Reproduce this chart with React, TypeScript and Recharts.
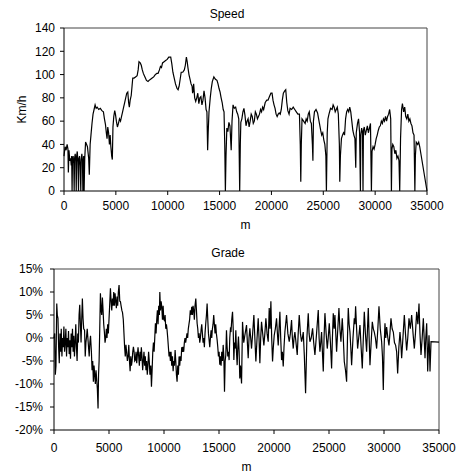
import React from 'react';
import { LineChart, Line, XAxis, YAxis, ReferenceLine } from 'recharts';

// distance (m), speed (km/h)
const speedPoints: [number, number][] = [
  [0, 30], [100, 38], [200, 35], [300, 40], [380, 36], [420, 16], [480, 35], [560, 26], [640, 28], [700, 22],
  [740, 30], [780, 0], [820, 27], [880, 30], [940, 24], [980, 0], [1020, 28], [1080, 32], [1140, 26], [1180, 0],
  [1220, 30], [1280, 34], [1340, 25], [1400, 0], [1440, 28], [1500, 30], [1560, 22], [1620, 0], [1660, 27], [1720, 32],
  [1780, 26], [1820, 0], [1860, 24], [1900, 30], [1940, 0], [2000, 28], [2080, 42], [2180, 40], [2260, 38], [2380, 28],
  [2440, 14], [2520, 40], [2600, 48], [2700, 58], [2800, 66], [2900, 70], [3000, 74], [3100, 71], [3200, 72], [3350, 70],
  [3500, 71], [3650, 69], [3800, 68], [3900, 62], [4000, 57], [4080, 50], [4150, 45], [4220, 55], [4300, 50], [4380, 40],
  [4450, 48], [4520, 38], [4600, 30], [4660, 27], [4720, 55], [4800, 64], [4890, 69], [4960, 66], [5050, 60], [5150, 55],
  [5250, 58], [5350, 62], [5450, 60], [5550, 64], [5650, 68], [5750, 72], [5850, 76], [5950, 80], [6050, 84], [6150, 85],
  [6230, 76], [6300, 72], [6380, 78], [6480, 82], [6560, 90], [6630, 97], [6750, 97], [6900, 98], [7050, 99], [7150, 104],
  [7230, 111], [7350, 110], [7450, 108], [7550, 104], [7650, 101], [7750, 99], [7850, 97], [7950, 95], [8100, 94], [8200, 95],
  [8350, 96], [8500, 97], [8650, 98], [8800, 100], [8950, 101], [9070, 101], [9200, 104], [9300, 107], [9400, 106], [9500, 110],
  [9650, 111], [9800, 112], [9950, 113], [10100, 115], [10290, 115], [10400, 109], [10500, 102], [10600, 98], [10750, 92], [10900, 88],
  [11000, 87], [11100, 90], [11200, 96], [11300, 102], [11450, 102], [11600, 104], [11700, 108], [11800, 115], [11880, 111], [11950, 106],
  [12050, 100], [12150, 96], [12250, 92], [12350, 90], [12400, 84], [12450, 86], [12500, 92], [12600, 80], [12700, 77], [12800, 80],
  [12900, 84], [13000, 75], [13100, 80], [13200, 81], [13300, 74], [13400, 78], [13500, 86], [13600, 80], [13700, 70], [13780, 68],
  [13850, 35], [13900, 50], [13980, 68], [14100, 80], [14200, 88], [14300, 94], [14450, 98], [14600, 96], [14750, 95], [14850, 92],
  [14950, 88], [15050, 85], [15150, 80], [15250, 76], [15350, 70], [15430, 68], [15500, 40], [15560, 0], [15620, 30], [15700, 54],
  [15800, 51], [15900, 59], [16000, 56], [16120, 35], [16200, 60], [16300, 74], [16420, 71], [16550, 72], [16650, 68], [16750, 66],
  [16850, 62], [16940, 0], [17000, 40], [17050, 59], [17150, 62], [17250, 68], [17350, 71], [17450, 65], [17550, 56], [17650, 60],
  [17750, 62], [17850, 55], [17950, 60], [18050, 66], [18150, 64], [18250, 58], [18350, 60], [18450, 68], [18550, 66], [18650, 62],
  [18750, 64], [18850, 66], [18950, 70], [19050, 68], [19150, 72], [19250, 70], [19400, 76], [19550, 78], [19670, 78], [19800, 81],
  [19950, 84], [20060, 84], [20150, 78], [20250, 74], [20350, 71], [20450, 66], [20550, 64], [20650, 66], [20750, 67], [20850, 66],
  [20950, 70], [21050, 78], [21150, 84], [21280, 86], [21380, 87], [21480, 76], [21580, 69], [21700, 66], [21800, 71], [21950, 70],
  [22100, 72], [22250, 70], [22400, 68], [22550, 66], [22700, 66], [22780, 40], [22830, 8], [22880, 40], [22950, 62], [23100, 60],
  [23250, 58], [23350, 62], [23450, 60], [23550, 66], [23650, 68], [23750, 60], [23850, 58], [23950, 40], [24000, 26], [24050, 60],
  [24150, 68], [24300, 70], [24450, 67], [24550, 62], [24650, 57], [24750, 52], [24850, 48], [24950, 50], [25050, 44], [25150, 40],
  [25250, 30], [25300, 0], [25380, 50], [25450, 62], [25550, 66], [25700, 71], [25850, 70], [25950, 74], [26050, 72], [26150, 68],
  [26250, 70], [26350, 72], [26450, 66], [26550, 40], [26590, 8], [26650, 30], [26750, 45], [26850, 48], [26950, 50], [27050, 48],
  [27150, 62], [27250, 68], [27350, 70], [27450, 68], [27550, 72], [27650, 68], [27750, 60], [27850, 52], [27950, 48], [28050, 45],
  [28130, 20], [28180, 50], [28300, 58], [28400, 62], [28500, 50], [28580, 0], [28620, 48], [28700, 54], [28780, 50], [28830, 0],
  [28870, 52], [28950, 55], [29050, 48], [29150, 52], [29250, 56], [29350, 50], [29450, 54], [29550, 58], [29640, 0], [29700, 34],
  [29800, 38], [29900, 36], [30000, 40], [30100, 45], [30200, 48], [30300, 52], [30400, 55], [30500, 56], [30600, 60], [30700, 58],
  [30800, 62], [30900, 60], [31000, 64], [31100, 60], [31200, 64], [31300, 66], [31400, 70], [31500, 62], [31570, 0], [31620, 36],
  [31700, 40], [31800, 38], [31900, 32], [32000, 35], [32100, 28], [32200, 30], [32300, 26], [32370, 0], [32450, 45], [32550, 70],
  [32630, 75], [32750, 68], [32850, 72], [32950, 64], [33050, 62], [33150, 66], [33250, 60], [33350, 62], [33450, 58], [33550, 56],
  [33650, 50], [33750, 48], [33830, 0], [33880, 30], [33960, 42], [34100, 40], [34200, 42], [34300, 38], [35000, 0],
];

// distance (m), grade (%)
const gradePoints: [number, number][] = [
  [0, 0], [60, 1], [120, -8], [180, -6], [250, 7.5], [300, 5], [360, 4.3], [420, -2], [480, -5.5], [540, 1],
  [600, -3], [660, 2], [720, -4], [780, 0], [840, -2], [900, 2.5], [960, -3], [1020, -1], [1080, 2], [1140, -4],
  [1200, 0], [1260, -2], [1320, 1.5], [1380, -3.5], [1440, -0.5], [1500, -4.5], [1560, 1], [1620, -2], [1680, 2], [1740, -3],
  [1800, 0.5], [1860, -4], [1920, -1], [1980, 3], [2040, -2], [2100, -5], [2160, 1], [2220, -1], [2280, 5], [2340, 7.2],
  [2400, 3], [2460, -1], [2520, 4], [2580, 8.6], [2640, 4.3], [2700, 2], [2780, 1.7], [2840, -4], [2900, -1], [2960, 0.3],
  [3020, 2], [3080, 0], [3140, -2], [3200, -4], [3260, -1], [3320, 0.5], [3400, -3], [3460, -7], [3520, -5], [3580, -9.5],
  [3640, -6], [3700, -8], [3760, -10], [3820, -7], [3880, -9], [3940, -11], [4005, -15.3], [4050, -8], [4100, -5], [4160, 2],
  [4220, 9.7], [4280, 6], [4340, 5], [4400, 8.8], [4460, 6], [4520, 3], [4580, 1.3], [4640, -1], [4700, 0], [4760, 2],
  [4820, 0], [4880, 3], [4940, 1], [5000, 4], [5060, 7], [5130, 10.8], [5190, 8], [5250, 6], [5310, 8.6], [5370, 7],
  [5430, 10], [5490, 7], [5550, 9.7], [5610, 8], [5670, 6.5], [5730, 9], [5790, 7], [5850, 10], [5915, 11.5], [5980, 8],
  [6040, 7.9], [6100, 7], [6170, 6], [6230, 5.5], [6300, 4], [6360, 1], [6420, -2], [6480, -4], [6540, -1.5], [6600, -3],
  [6670, -5], [6735, -4], [6800, -1.5], [6860, -5], [6920, -7.2], [6980, -4], [7040, -6], [7100, -5], [7160, -3], [7220, -1.9],
  [7280, -3], [7340, -5], [7400, -4.8], [7460, -3], [7520, -5.5], [7580, -3.7], [7640, -2], [7700, -4], [7760, -6], [7820, -3],
  [7880, -5], [7940, -2], [8000, -4], [8060, -7], [8120, -5], [8180, -3], [8240, -6], [8300, -4], [8360, -7], [8420, -5],
  [8480, -8], [8540, -6], [8600, -3], [8660, -5], [8720, -8], [8800, -6], [8860, -10.6], [8920, -7], [8980, -3], [9040, -1],
  [9100, -3], [9160, 0], [9220, 3.2], [9280, 1], [9340, 4], [9400, 6], [9460, 3], [9520, 7], [9580, 5], [9620, 10],
  [9680, 6], [9740, 8], [9800, 6.7], [9860, 4], [9920, 7], [9980, 4], [10040, 3.8], [10100, 5], [10160, 2], [10220, 3],
  [10280, 1.7], [10340, 0], [10400, -2], [10460, -4], [10520, -3], [10580, -5], [10640, -3], [10700, -6], [10770, -4], [10830, -7.2],
  [10890, -5], [10950, -6], [11010, -2.6], [11070, -5], [11130, -8], [11190, -9.5], [11250, -6], [11310, -8], [11370, -4], [11430, -6],
  [11490, -4], [11550, -5], [11610, -2], [11670, -3], [11730, -1.9], [11790, -3], [11850, -1], [11910, 0], [11970, -1], [12030, 0],
  [12090, 1], [12150, 0], [12210, 2], [12270, 3], [12330, 4], [12390, 6], [12450, 5], [12520, 6.8], [12580, 5], [12640, 7],
  [12700, 6], [12760, 4], [12820, 7], [12890, 8.6], [12950, 6], [13010, 3.2], [13070, 2], [13130, 0], [13190, 1], [13250, -1],
  [13310, 0], [13370, 1.7], [13430, 3], [13490, 1], [13550, -1], [13610, 0], [13670, -2], [13730, 1], [13790, 3], [13860, 5],
  [13920, 7.5], [13980, 4], [14040, 1], [14100, -0.4], [14160, -2], [14220, 0], [14280, 1.7], [14340, 0], [14400, 2], [14460, 3],
  [14520, 5], [14580, 3], [14640, 1], [14700, 3], [14760, 1], [14830, -0.4], [14890, -2], [14950, -4], [15010, -3], [15070, -5.8],
  [15130, -4], [15190, -6], [15250, -3], [15320, -5], [15380, -1.5], [15440, -4], [15500, -11.7], [15560, -5], [15620, -3.7], [15680, 1.7],
  [15740, -2], [15800, -4], [15860, -3], [15920, -4.8], [15980, 0], [16040, 2], [16100, 1.7], [16160, 4], [16230, 5.7], [16290, 2],
  [16350, -4.8], [16410, -1], [16470, -2.3], [16530, 1.7], [16590, -3], [16650, -5.9], [16710, -2], [16770, 0.3], [16830, -3], [16890, -8.8],
  [16950, -6], [17050, -9.9], [17139, 3.5], [17250, -1], [17351, 0.6], [17503, 2.8], [17580, -1], [17654, -4.4], [17730, 0], [17806, 2.1],
  [17880, 0], [17958, -2.3], [18060, 1], [18170, 5], [18260, 0], [18352, -5.1], [18460, 0], [18564, 4.3], [18640, 0], [18716, -5.5],
  [18790, 0], [18867, 3.5], [18970, 1], [19080, -1.6], [19170, 1], [19262, 4.3], [19370, 1], [19474, -0.8], [19565, 6.5], [19640, 2],
  [19717, 8], [19790, 0], [19868, -5.1], [19940, -2], [20020, 0.6], [20120, 2], [20232, 4.3], [20310, 1], [20384, -1.6], [20460, 2],
  [20536, 5.7], [20610, 0], [20687, -4.8], [20760, -3], [20839, -6.2], [20910, -2], [20990, 1.3], [21060, 3], [21142, 5], [21260, 1],
  [21385, -0.8], [21490, 1], [21597, 3.9], [21670, 0], [21749, -2.3], [21820, 0], [21900, 1.3], [22000, -1], [22113, -3.7], [22200, 1],
  [22295, 5], [22400, 1], [22507, -0.8], [22580, 0], [22659, 1.3], [22760, -4], [22871, -12], [22990, 0], [23114, 5.4], [23190, 1],
  [23265, -0.8], [23380, 0], [23508, 2.1], [23610, -1], [23720, -3.7], [23870, 1], [24024, 6.1], [24100, 0], [24175, -3], [24250, -1],
  [24327, 1.3], [24400, -3], [24479, -7.3], [24550, 0], [24630, 5.4], [24740, 1], [24842, -2.3], [24930, 0], [25024, 3.2], [25130, -1],
  [25237, -6.6], [25310, 0], [25388, 5.4], [25470, 2], [25539, 5], [25615, 1], [25691, -3], [25800, 2], [25903, 6.5], [25990, 2],
  [26085, -0.8], [26150, 2], [26206, 4.3], [26300, 0], [26388, -5.1], [26500, -7], [26601, -9.5], [26680, 0], [26752, 6.5], [26830, 3],
  [26904, 1.3], [26980, -2], [27056, -5.9], [27180, 0], [27298, 4.3], [27360, 3], [27419, 6.9], [27510, 2], [27601, -2.3], [27700, 0],
  [27814, 2.8], [27920, -2], [28026, -6.6], [28120, 0], [28208, 5.7], [28310, 1], [28420, -3], [28500, 2], [28572, 6.5], [28650, 0],
  [28724, -5.9], [28830, -1], [28936, 3.5], [29030, 2], [29118, 1.3], [29220, 0], [29330, -2.3], [29440, 2], [29543, 6.9], [29660, 2],
  [29785, -0.8], [29860, -4], [29937, -11.3], [30010, -2], [30089, 3.2], [30160, 0], [30240, 2.4], [30350, 0], [30452, -1.6], [30540, 1],
  [30634, 4.3], [30740, 2], [30847, 1.3], [30950, -1], [31059, -1.6], [31150, -3], [31241, -7.7], [31350, -2], [31453, 1.3], [31530, -1],
  [31605, -4.4], [31720, 0], [31848, 5], [31950, 1], [32060, -2.7], [32160, 0], [32272, 4.3], [32390, 2], [32515, 5], [32640, 1],
  [32757, -2.3], [32860, 1], [32970, 5.7], [33080, 3], [33182, 7.5], [33270, 1], [33364, -3.7], [33470, 0], [33577, 4.3], [33650, 0],
  [33728, -4.4], [33800, 0], [33880, 3.2], [33930, -2], [33971, -7.3], [34030, -3], [34092, 0.6], [34140, -3], [34183, -7.3], [34274, -0.8],
  [35000, -0.9],
];

const distanceTicks = [0, 5000, 10000, 15000, 20000, 25000, 30000, 35000];
const speedTicks = [0, 20, 40, 60, 80, 100, 120, 140];
const gradeTicks = [-20, -15, -10, -5, 0, 5, 10, 15];

const speedData = speedPoints.map(([m, v]) => ({ m, v }));
const gradeData = gradePoints.map(([m, g]) => ({ m, g }));

const FONT = '"Liberation Sans", Arial, sans-serif';
const tickStyle = { fontSize: 12, fill: '#000', fontFamily: FONT };

const titleStyle: React.CSSProperties = {
  position: 'absolute',
  fontFamily: FONT,
  fontSize: 12,
  color: '#000',
  width: 100,
  textAlign: 'center',
  lineHeight: '14px',
};

export default function App() {
  return (
    <div style={{ position: 'absolute', left: 0, top: 0, width: 461, height: 475, background: '#fff' }}>
      <div style={{ ...titleStyle, left: 177, top: 7 }}>Speed</div>
      <div style={{ ...titleStyle, left: 178, top: 246 }}>Grade</div>
      <div style={{ position: 'absolute', left: 0, top: 0 }}>
        <LineChart width={461} height={240} data={speedData} margin={{ top: 28, right: 34, left: 24, bottom: 9 }}>
          <XAxis
            type="number"
            dataKey="m"
            domain={[0, 35000]}
            ticks={distanceTicks}
            interval={0}
            tick={tickStyle}
            tickSize={4}
            tickMargin={6}
            stroke="#000"
            height={40}
            label={{ value: 'm', position: 'insideBottom', offset: 2, style: { fontSize: 12, fill: '#000', fontFamily: FONT } }}
          />
          <YAxis
            type="number"
            domain={[0, 140]}
            ticks={speedTicks}
            interval={0}
            tick={tickStyle}
            tickSize={4}
            tickMargin={5}
            stroke="#000"
            width={40}
            label={{ value: 'Km/h', angle: -90, position: 'insideLeft', offset: -2, style: { textAnchor: 'middle', fontSize: 12, fill: '#000', fontFamily: FONT } }}
          />
          <ReferenceLine y={140} stroke="#444" />
          <ReferenceLine x={35000} stroke="#444" />
          <Line type="linear" dataKey="v" stroke="#000" strokeWidth={1.2} dot={false} isAnimationActive={false} />
        </LineChart>
      </div>
      <div style={{ position: 'absolute', left: 0, top: 235 }}>
        <LineChart width={461} height={240} data={gradeData} margin={{ top: 34, right: 22, left: 10, bottom: 0 }}>
          <XAxis
            type="number"
            dataKey="m"
            domain={[0, 35000]}
            ticks={distanceTicks}
            interval={0}
            tick={tickStyle}
            tickSize={4}
            tickMargin={9}
            stroke="#000"
            height={45}
            label={{ value: 'm', position: 'insideBottom', offset: 4, style: { fontSize: 12, fill: '#000', fontFamily: FONT } }}
          />
          <YAxis
            type="number"
            domain={[-20, 15]}
            ticks={gradeTicks}
            interval={0}
            tick={tickStyle}
            tickSize={4}
            tickMargin={7}
            stroke="#000"
            width={44}
            tickFormatter={(v: number) => `${v}%`}
          />
          <ReferenceLine y={15} stroke="#444" />
          <ReferenceLine x={35000} stroke="#444" />
          <Line type="linear" dataKey="g" stroke="#000" strokeWidth={1.2} dot={false} isAnimationActive={false} />
        </LineChart>
      </div>
    </div>
  );
}
